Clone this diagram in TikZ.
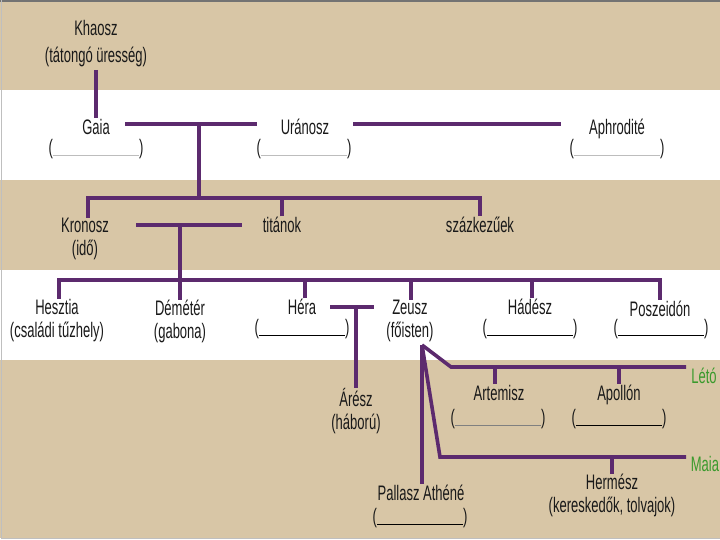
\documentclass[tikz,border=0pt]{standalone}
\usepackage{fontspec}
\setmainfont[FakeStretch=0.62]{Liberation Sans}
\usetikzlibrary{positioning}
\definecolor{tan}{HTML}{D8C6A6}
\definecolor{kinpurple}{HTML}{5C2A6E}
\definecolor{wifegreen}{HTML}{3A9A2C}
\definecolor{paleline}{HTML}{BDBDBD}
\newcommand\blank[1]{(\textcolor{#1}{\rule[-1.5pt]{86pt}{0.7pt}})}

\begin{document}
\begin{tikzpicture}[x=1pt,y=-1pt,
  god/.style={font=\fontsize{21}{23}\selectfont,align=center,inner sep=0pt,
    text=black!90,execute at begin node=\strut,execute at end node=\strut},
  kin/.style={kinpurple,line width=3.6pt},
  wife/.style={god,text=wifegreen}]
  \useasboundingbox (0,0) rectangle (720,540);
  % bands
  \foreach \t/\b in {0/90,180/270,360/538}
    \fill[tan] (0,\t) rectangle (720,\b);
  \draw[black!55,line width=1.2pt] (0,1) -- (720,1);
  \draw[black!25] (1,0) -- (1,538) -- (720,538);

  % gods
  \node[god] (khaosz) at (96,45) {Khaosz\\[4pt](tátongó üresség)};
  \node[god] (gaia) at (96,130) {Gaia};
  \node[god] (uranosz) at (305,130) {Uránosz};
  \node[god] (aphrodite) at (617,130) {Aphrodité};
  \node[god] (kronosz) at (85,240) {Kronosz\\(idő)};
  \node[god] (titanok) at (282,228) {titánok};
  \node[god] (szazkezuek) at (480,228) {százkezűek};
  \node[god] (hesztia) at (57,322) {Hesztia\\(családi tűzhely)};
  \node[god] (demeter) at (180,323) {Démétér\\(gabona)};
  \node[god] (hera) at (302,310) {Héra};
  \node[god] (zeusz) at (410,322) {Zeusz\\(főisten)};
  \node[god] (hadesz) at (530,310) {Hádész};
  \node[god] (poszeidon) at (660,312) {Poszeidón};
  \node[god] (aresz) at (356,412) {Árész\\(háború)};
  \node[god] (artemisz) at (499,396) {Artemisz};
  \node[god] (apollon) at (619,396) {Apollón};
  \node[god] (pallasz) at (421,496) {Pallasz Athéné};
  \node[god] (hermesz) at (612,497) {Hermész\\(kereskedők, tolvajok)};
  \node[wife] (leto) at (704,379) {Létó};
  \node[wife] (maia) at (705,467) {Maia};

  % blanks to fill in
  \foreach \n/\x/\y/\c in {gaia/96/150/paleline,uranosz/304/150/paleline,
      aphrodite/617/150/paleline,hera/302/330/black,hadesz/530/330/black,
      poszeidon/661/330/black,artemisz/498/420/gray,apollon/619/420/black,
      pallasz/420/519/black}
    \node[god] (\n-blank) at (\x,\y) {\blank{\c}};

  % bar ends and junctions
  \foreach \n/\x/\y in {gu-l/125/124,gu-r/257/124,gu/199/124,ua-l/353/124,
      ua-r/561/124,kids1/199/198,kt-l/136/225,kt-r/242/225,kt/180/225,
      kids2/180/280,hz-l/330/307,hz-r/374/307,hz/356/307,zf/422/345,
      leto-k/451/367,leto-r/686/367,maia-k/440/457,maia-r/686/457}
    \coordinate (\n) at (\x,\y);

  % family lines
  \draw[kin] (khaosz) -- (gaia);
  \draw[kin] (gu-l) -- (gu-r);
  \draw[kin] (ua-l) -- (ua-r);
  \draw[kin] (gu) -- (kids1);
  \draw[kin] ([xshift=3pt]kronosz.north) |- (kids1) -| (szazkezuek.north);
  \draw[kin] (titanok.north) -- (titanok.north |- kids1);
  \draw[kin] (kt-l) -- (kt-r);
  \draw[kin] (kt) -- (demeter.north);
  \draw[kin] ([xshift=2pt]hesztia.north) |- (kids2) -| (poszeidon.north);
  \foreach \g/\s in {hera/3,zeusz/1,hadesz/2}
    \draw[kin] ([xshift=\s pt]\g.north) -- ([xshift=\s pt]\g.north |- kids2);
  \draw[kin] (hz-l) -- (hz-r);
  \draw[kin] (hz) -- (aresz.north);
  \draw[kin] (zf) -- (leto-k) -- (leto-r);
  \draw[kin] (zf) -- (maia-k) -- (maia-r);
  \draw[kin] (zf) -- (zf |- pallasz.north);
  \draw[kin] ([xshift=-4pt]artemisz.north |- leto-k) -- ([xshift=-4pt]artemisz.north);
  \draw[kin] (apollon.north |- leto-k) -- (apollon.north);
  \draw[kin] (hermesz.north |- maia-k) -- (hermesz.north);
\end{tikzpicture}
\end{document}
